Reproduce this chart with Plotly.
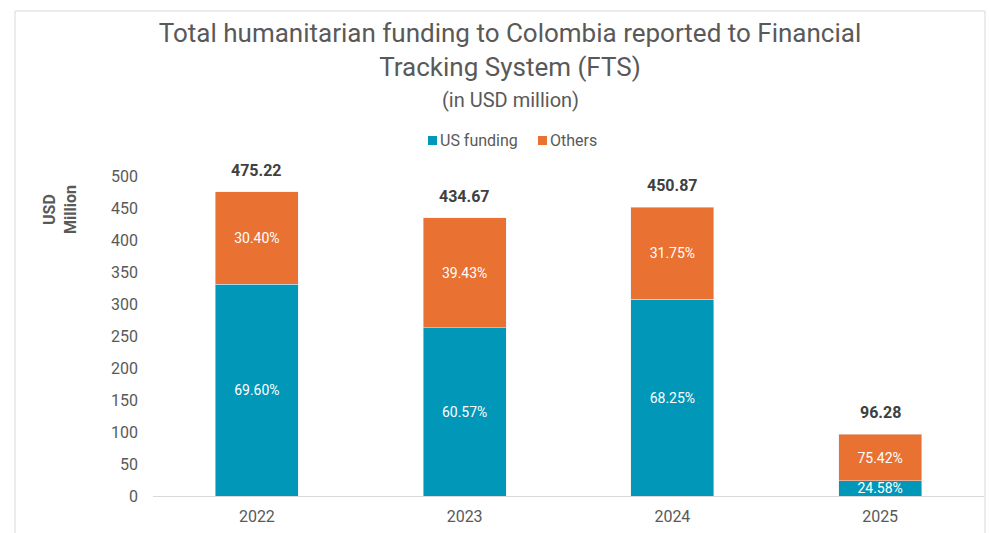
import plotly.graph_objects as go

years = ["2022", "2023", "2024", "2025"]
totals = [475.22, 434.67, 450.87, 96.28]
us_values = [330.75, 263.28, 307.72, 23.67]
others_values = [144.47, 171.39, 143.15, 72.61]
us_pct = ["69.60%", "60.57%", "68.25%", "24.58%"]
others_pct = ["30.40%", "39.43%", "31.75%", "75.42%"]
y_ticks = [0, 50, 100, 150, 200, 250, 300, 350, 400, 450, 500]
series_names = ["US funding", "Others"]

BLUE = "#0097B9"
ORANGE = "#E97132"
GREY = "#595959"
FONT = "Roboto"
colors = [BLUE, ORANGE]

fig = go.Figure()
fig.add_trace(go.Bar(
    x=years, y=us_values, name=series_names[0], marker_color=BLUE,
    text=us_pct, textposition="inside", insidetextanchor="middle", textangle=0,
    textfont=dict(color="white", size=14, family=FONT),
    width=0.4, hoverinfo="skip", showlegend=False,
))
fig.add_trace(go.Bar(
    x=years, y=others_values, name=series_names[1], marker_color=ORANGE,
    text=others_pct, textposition="inside", insidetextanchor="middle", textangle=0,
    textfont=dict(color="white", size=14, family=FONT),
    width=0.4, hoverinfo="skip", showlegend=False,
))

for i, tot in enumerate(totals):
    fig.add_annotation(
        x=i, y=tot, text=f"<b>{tot:.2f}</b>", showarrow=False,
        yanchor="bottom", yshift=10,
        font=dict(size=16, color="#404040", family=FONT),
    )

L, R, T, B = 153, 5, 176, 37
W, H = 989, 533
pw, ph = W - L - R, H - T - B


def px(x):
    return (x - L) / pw


def py(y):
    return (H - B - y) / ph


fig.add_shape(
    type="rect", xref="paper", yref="paper",
    x0=px(15), x1=px(985), y0=py(545), y1=py(11),
    line=dict(color="#D9D9D9", width=1), fillcolor="rgba(0,0,0,0)", layer="below",
)

# subtitle
fig.add_annotation(
    xref="paper", yref="paper", x=px(510), y=py(100), xanchor="center", yanchor="middle",
    text="(in USD million)", showarrow=False,
    font=dict(size=20, color=GREY, family=FONT),
)

# legend (manual, to match tight swatch spacing)
legend_x = [428, 538]
for name, col, lx in zip(series_names, colors, legend_x):
    fig.add_shape(
        type="rect", xref="paper", yref="paper",
        x0=px(lx), x1=px(lx + 9), y0=py(145), y1=py(136),
        line=dict(width=0), fillcolor=col,
    )
    fig.add_annotation(
        xref="paper", yref="paper", x=px(lx + 10), y=py(140),
        xanchor="left", yanchor="middle", text=name, showarrow=False,
        font=dict(size=16, color=GREY, family=FONT),
    )

# y-axis title
fig.add_annotation(
    xref="paper", yref="paper", x=px(60), y=py(210),
    xanchor="center", yanchor="middle", textangle=-90,
    text="<b>USD<br>Million</b>", showarrow=False,
    font=dict(size=16, color=GREY, family=FONT),
)

fig.update_layout(
    width=W, height=H,
    margin=dict(l=L, r=R, t=T, b=B),
    barmode="stack",
    plot_bgcolor="white", paper_bgcolor="white",
    font=dict(family=FONT, color=GREY, size=16),
    showlegend=False,
    title=dict(
        text="Total humanitarian funding to Colombia reported to Financial<br>Tracking System (FTS)",
        x=510 / W, xanchor="center", xref="container",
        y=1 - 42 / H, yanchor="middle", yref="container",
        font=dict(size=26, color=GREY, family=FONT),
    ),
    xaxis=dict(
        type="category", range=[-0.5, 3.5],
        showline=True, linecolor="#D9D9D9", linewidth=1,
        showgrid=False, ticks="", tickfont=dict(size=16, color=GREY),
        ticklabelstandoff=6,
    ),
    yaxis=dict(
        range=[0, 500], tickvals=y_ticks, showgrid=False, zeroline=False,
        showline=False, ticks="", tickfont=dict(size=16, color=GREY),
        ticklabelstandoff=14,
    ),
    uniformtext=dict(minsize=14, mode="show"),
)

fig.write_html("out.html")
